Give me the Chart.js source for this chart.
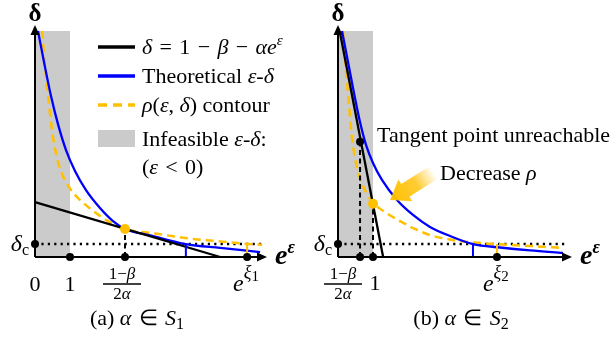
<!DOCTYPE html>
<html>
<head>
<meta charset="utf-8">
<script src="https://cdn.jsdelivr.net/npm/chart.js@4.4.1/dist/chart.umd.min.js"></script>
<style>
  html, body { margin: 0; padding: 0; background: #fff; }
  #wrap { position: relative; width: 616px; height: 337px; }
  canvas { position: absolute; top: 0; }
  #panelA { left: 0; }
  #panelB { left: 308px; }
</style>
</head>
<body>
<div id="wrap">
  <canvas id="panelA" width="308" height="337"></canvas>
  <canvas id="panelB" width="308" height="337"></canvas>
</div>
<script>
const SERIF = '"Liberation Serif", "Times New Roman", serif';
const ORANGE = "#FFC000";
const BLUE = "#0000FF";
const GRAY = "#CBCBCB";

// shared values (x = e^eps, y = delta)
const deltaC = 0.057;
const infeasibleX = [0, 1];
const dottedEnd = 6.49;

// (a) alpha in S1
const aLine = [[0, 0.243], [5.29, 0]];
const aTheory = [[0.086, 1.0], [0.257, 0.863], [0.457, 0.712], [0.657, 0.588], [0.886, 0.473], [1.143, 0.381],
  [1.457, 0.296], [1.857, 0.217], [2.229, 0.159], [2.571, 0.124], [3.29, 0.096], [4.31, 0.057],
  [5.29, 0.04], [6.43, 0.022]];
const aContour = [[0.2, 1.0], [0.3, 0.827], [0.4, 0.673], [0.514, 0.531], [0.629, 0.438], [0.771, 0.367],
  [0.971, 0.31], [1.229, 0.261], [1.629, 0.208], [2.086, 0.159], [2.571, 0.124], [3.43, 0.104],
  [4.29, 0.084], [5.14, 0.071], [6.06, 0.058], [6.49, 0.054]];
const aTangent = [2.571, 0.124];
const aTickX = [0, 1, 2.571, 6.06];   // 0, 1, (1-β)/2α, e^ξ1
const aBlueCut = 4.31;
const aOrangeCut = 6.06;

// (b) alpha in S2
const bLine = [[0.06, 0.99], [1.29, 0]];
const bTheory = [[0.114, 1.0], [0.286, 0.863], [0.457, 0.726], [0.629, 0.597], [0.8, 0.496], [1.0, 0.416],
  [1.257, 0.341], [1.686, 0.252], [2.143, 0.186], [2.629, 0.133], [3.2, 0.093], [3.857, 0.057],
  [4.629, 0.042], [5.486, 0.029], [6.429, 0.018]];
const bContour = [[0.143, 1.0], [0.229, 0.827], [0.314, 0.673], [0.4, 0.527], [0.514, 0.416], [0.657, 0.336],
  [0.829, 0.279], [1.0, 0.24], [1.343, 0.199], [1.771, 0.159], [2.2, 0.124], [2.629, 0.097],
  [3.2, 0.077], [3.914, 0.064], [4.543, 0.057], [5.486, 0.049], [6.429, 0.04]];
const bUnreach = [0.63, 0.51];
const bTangent = [1.0, 0.236];
const bTickX = [0.63, 1, 4.543];     // (1-β)/2α, 1, e^ξ2
const bBlueCut = 3.857;
const bOrangeCut = 4.543;
const bArrow = [[2.74, 0.375], [1.49, 0.252]];   // tail, tip

const R = s => s + "px " + SERIF;
const I = s => "italic " + s + "px " + SERIF;
const SP = "\u2004";

function pts(arr) {
  return arr.map(p => ({ x: p[0], y: p[1] }));
}

function drawRuns(ctx, x, y, parts, align) {
  let w = 0;
  parts.forEach(p => { ctx.font = p[1]; w += ctx.measureText(p[0]).width; });
  let cx = align === "center" ? x - w / 2 : (align === "right" ? x - w : x);
  parts.forEach(p => {
    ctx.font = p[1];
    ctx.fillText(p[0], cx, y + (p[2] || 0));
    cx += ctx.measureText(p[0]).width;
  });
}

function drawFraction(ctx, x, y) {
  drawRuns(ctx, x, y, [["1−", R(17)], ["β", I(17)]], "center");
  ctx.beginPath();
  ctx.moveTo(x - 19, y + 5);
  ctx.lineTo(x + 19, y + 5);
  ctx.lineWidth = 1.3;
  ctx.strokeStyle = "#000";
  ctx.stroke();
  drawRuns(ctx, x, y + 20, [["2", R(17)], ["α", I(17)]], "center");
}

function drawAxes(chart) {
  const ctx = chart.ctx;
  const x0 = chart.scales.x.getPixelForValue(0);
  const y0 = chart.scales.y.getPixelForValue(0);
  const xEnd = chart.chartArea.right;
  const yEnd = chart.chartArea.top - 4;
  ctx.save();
  ctx.strokeStyle = "#000";
  ctx.fillStyle = "#000";
  ctx.lineWidth = 2;
  ctx.beginPath();
  ctx.moveTo(x0, y0);
  ctx.lineTo(x0, yEnd + 6);
  ctx.moveTo(x0, y0);
  ctx.lineTo(xEnd - 6, y0);
  ctx.stroke();
  ctx.beginPath();
  ctx.moveTo(x0, yEnd - 2);
  ctx.lineTo(x0 - 4.5, yEnd + 8);
  ctx.lineTo(x0 + 4.5, yEnd + 8);
  ctx.closePath();
  ctx.fill();
  ctx.beginPath();
  ctx.moveTo(xEnd + 2, y0);
  ctx.lineTo(xEnd - 8, y0 - 4.5);
  ctx.lineTo(xEnd - 8, y0 + 4.5);
  ctx.closePath();
  ctx.fill();
  // axis names
  ctx.textBaseline = "alphabetic";
  drawRuns(ctx, x0, 21, [["δ", "bold " + R(25)]], "center");
  drawRuns(ctx, xEnd + 10, y0 + 7, [["e", "bold italic " + R(28)], ["ε", "bold italic " + R(18), -11]]);
  drawRuns(ctx, x0 - 6, chart.scales.y.getPixelForValue(deltaC) + 7,
    [["δ", I(24)], ["c", "16px " + SERIF, 4]], "right");
  ctx.restore();
}

function baseDatasets(line, theory, contour, tangent, blueCut, orangeCut, dashes, dots) {
  return [
    { data: pts([[infeasibleX[0], 1], [infeasibleX[1], 1]]), fill: "origin", backgroundColor: GRAY,
      borderWidth: 0, pointRadius: 0, order: 20 },
    { data: pts([[0, deltaC], [dottedEnd, deltaC]]), borderColor: "#000", borderWidth: 2.5,
      borderDash: [2.2, 4.2], pointRadius: 0, order: 15 },
    { data: pts(contour), borderColor: ORANGE, borderWidth: 2.5, borderDash: [8, 5],
      cubicInterpolationMode: "monotone", pointRadius: 0, order: 12 },
    { data: pts(theory), borderColor: BLUE, borderWidth: 2.3, cubicInterpolationMode: "monotone",
      pointRadius: 0, order: 11 },
    { data: pts(line), borderColor: "#000", borderWidth: 2.3, pointRadius: 0, order: 10 },
    ...dashes.map(d => ({ data: pts([[d[0], 0], d]), borderColor: "#000", borderWidth: 2,
      borderDash: [5, 3.5], pointRadius: 0, order: 9 })),
    { data: pts([[blueCut, 0], [blueCut, deltaC]]), borderColor: BLUE, borderWidth: 2, pointRadius: 0, order: 8 },
    { data: pts([[orangeCut, 0], [orangeCut, deltaC]]), borderColor: ORANGE, borderWidth: 2, pointRadius: 0, order: 8 },
    { data: pts(dots), showLine: false, pointRadius: 4, pointBackgroundColor: "#000",
      pointBorderWidth: 0, order: 2 },
    { data: pts([tangent]), showLine: false, pointRadius: 5, pointBackgroundColor: ORANGE,
      pointBorderWidth: 0, order: 1 }
  ];
}

function makePanel(id, datasets, padding, xMax, drawText) {
  new Chart(document.getElementById(id), {
    type: "line",
    data: { datasets: datasets.map(d => Object.assign({ clip: false, fill: false, tension: 0 }, d)) },
    options: {
      responsive: false,
      animation: false,
      devicePixelRatio: 1,
      layout: { padding: padding },
      plugins: { legend: { display: false }, tooltip: { enabled: false } },
      scales: {
        x: { type: "linear", min: 0, max: xMax, display: false },
        y: { type: "linear", min: 0, max: 1, display: false }
      }
    },
    plugins: [{
      id: "deco",
      afterDatasetsDraw(chart) {
        drawAxes(chart);
        const ctx = chart.ctx;
        ctx.save();
        ctx.fillStyle = "#000";
        ctx.textBaseline = "alphabetic";
        drawText(chart, ctx);
        ctx.restore();
      }
    }]
  });
}

// ---- panel (a)
makePanel("panelA",
  baseDatasets(aLine, aTheory, aContour, aTangent, aBlueCut, aOrangeCut, [aTangent],
    [[0, deltaC], [aTickX[1], 0], [aTickX[2], 0], [aTickX[3], 0]]),
  { left: 35, right: 43, top: 31, bottom: 80 }, 6.571,
  (chart, ctx) => {
    const xs = chart.scales.x;
    drawRuns(ctx, xs.getPixelForValue(aTickX[0]), 291, [["0", R(22)]], "center");
    drawRuns(ctx, xs.getPixelForValue(aTickX[1]), 291, [["1", R(22)]], "center");
    drawFraction(ctx, xs.getPixelForValue(aTickX[2]) - 3, 279);
    drawRuns(ctx, xs.getPixelForValue(aTickX[3]) - 14, 291,
      [["e", I(24)], ["ξ", I(18), -13], ["1", R(15), -10]]);
    drawRuns(ctx, 137, 325, [["(a) ", R(22)], ["α", I(22)], [SP + "∈" + SP, R(22)], ["S", I(22)], ["1", R(16), 4]], "center");

    // legend
    const lx0 = 98, lx1 = 135, tx = 142;
    ctx.lineWidth = 3.5;
    ctx.strokeStyle = "#000";
    ctx.beginPath(); ctx.moveTo(lx0, 47); ctx.lineTo(lx1, 47); ctx.stroke();
    ctx.strokeStyle = BLUE;
    ctx.beginPath(); ctx.moveTo(lx0, 76); ctx.lineTo(lx1, 76); ctx.stroke();
    ctx.strokeStyle = ORANGE;
    ctx.setLineDash([9, 6]);
    ctx.beginPath(); ctx.moveTo(lx0, 105); ctx.lineTo(lx1, 105); ctx.stroke();
    ctx.setLineDash([]);
    ctx.fillStyle = GRAY;
    ctx.fillRect(lx0, 130, lx1 - lx0, 17);
    ctx.fillStyle = "#000";
    drawRuns(ctx, tx, 54, [["δ", I(22)], [SP + "=" + SP + "1" + SP + "−" + SP, R(22)], ["β", I(22)],
      [SP + "−" + SP, R(22)], ["αe", I(22)], ["ε", I(15), -9]]);
    drawRuns(ctx, tx, 83, [["Theoretical ", R(22)], ["ε", I(22)], ["-", R(22)], ["δ", I(22)]]);
    drawRuns(ctx, tx, 112, [["ρ", I(22)], ["(", R(22)], ["ε", I(22)], [", ", R(22)], ["δ", I(22)], [") contour", R(22)]]);
    drawRuns(ctx, tx, 146, [["Infeasible ", R(22)], ["ε", I(22)], ["-", R(22)], ["δ", I(22)], [":", R(22)]]);
    drawRuns(ctx, tx, 174, [["(", R(22)], ["ε", I(22)], [SP + "<" + SP + "0)", R(22)]]);
  });

// ---- panel (b)
makePanel("panelB",
  baseDatasets(bLine, bTheory, bContour, bTangent, bBlueCut, bOrangeCut, [bUnreach, bTangent],
    [[0, deltaC], [bTickX[0], 0], [bTickX[1], 0], [bTickX[2], 0], bUnreach]),
  { left: 30, right: 46, top: 31, bottom: 80 }, 6.63,
  (chart, ctx) => {
    const xs = chart.scales.x, ys = chart.scales.y;
    drawFraction(ctx, xs.getPixelForValue(bTickX[0]) - 17, 279);
    drawRuns(ctx, xs.getPixelForValue(bTickX[1]) + 2, 290, [["1", R(22)]], "center");
    drawRuns(ctx, xs.getPixelForValue(bTickX[2]) - 14, 291,
      [["e", I(24)], ["ξ", I(18), -13], ["2", R(15), -10]]);
    drawRuns(ctx, 153, 325, [["(b) ", R(22)], ["α", I(22)], [SP + "∈" + SP, R(22)], ["S", I(22)], ["2", R(16), 4]], "center");
    drawRuns(ctx, 69, 142, [["Tangent point unreachable", R(22)]]);
    drawRuns(ctx, 132, 180, [["Decrease ", R(22)], ["ρ", I(22)]]);

    // arrow toward lower contour
    const tx = xs.getPixelForValue(bArrow[0][0]), ty = ys.getPixelForValue(bArrow[0][1]);
    const hx = xs.getPixelForValue(bArrow[1][0]), hy = ys.getPixelForValue(bArrow[1][1]);
    const len = Math.hypot(hx - tx, hy - ty);
    const ux = (hx - tx) / len, uy = (hy - ty) / len;
    const nx = -uy, ny = ux;
    const headLen = 18, headW = 13, shaftW = 7.5;
    const bx = hx - ux * headLen, by = hy - uy * headLen;
    const grad = ctx.createLinearGradient(tx, ty, hx, hy);
    grad.addColorStop(0, "rgba(255,192,0,0)");
    grad.addColorStop(0.4, "rgba(255,192,0,0.8)");
    grad.addColorStop(1, "rgba(255,192,0,1)");
    ctx.fillStyle = grad;
    ctx.beginPath();
    ctx.moveTo(tx + nx * shaftW, ty + ny * shaftW);
    ctx.lineTo(bx + nx * shaftW, by + ny * shaftW);
    ctx.lineTo(bx + nx * headW, by + ny * headW);
    ctx.lineTo(hx, hy);
    ctx.lineTo(bx - nx * headW, by - ny * headW);
    ctx.lineTo(bx - nx * shaftW, by - ny * shaftW);
    ctx.lineTo(tx - nx * shaftW, ty - ny * shaftW);
    ctx.closePath();
    ctx.fill();
  });
</script>
</body>
</html>
